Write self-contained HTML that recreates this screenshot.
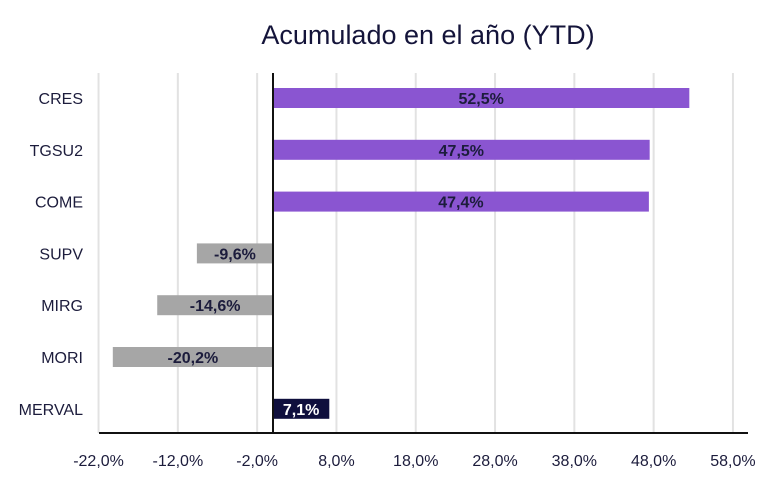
<!DOCTYPE html>
<html><head><meta charset="utf-8"><style>
body{margin:0;background:#fff;width:775px;height:474px;overflow:hidden}
svg text{font-family:"Liberation Sans",sans-serif}
</style></head><body>
<svg id="chart" width="775" height="474" viewBox="0 0 775 474">
<text x="428" y="44" text-anchor="middle" font-size="27" fill="#14143a">Acumulado en el año (YTD)</text>
<g id="grid"></g><g id="bars"></g><g id="axes"></g>
</svg>
<script>
const categories=["CRES","TGSU2","COME","SUPV","MIRG","MORI","MERVAL"];
const values=[52.5,47.5,47.4,-9.6,-14.6,-20.2,7.1];
const labels=["52,5%","47,5%","47,4%","-9,6%","-14,6%","-20,2%","7,1%"];
const ticks=[-22,-12,-2,8,18,28,38,48,58];
const tickLabels=["-22,0%","-12,0%","-2,0%","8,0%","18,0%","28,0%","38,0%","48,0%","58,0%"];
const NS="http://www.w3.org/2000/svg";
const x=v=>273+v*7.93;
const y=i=>98+i*51.8;
function mk(tag,attrs,parent){const e=document.createElementNS(NS,tag);for(const k in attrs)e.setAttribute(k,attrs[k]);document.getElementById(parent).appendChild(e);return e;}
ticks.forEach((t,i)=>{
 const g=mk("line",{x1:x(t),x2:x(t),y1:73,y2:433,stroke:"#e2e2e2","stroke-width":2},"grid");
 
 
 const tl=mk("text",{x:x(t),y:466,"text-anchor":"middle","font-size":16,fill:"#1c1c3c"},"axes");
 tl.textContent=tickLabels[i];
 
 
});
categories.forEach((c,i)=>{
 const v=values[i];
 const col=i===6?"#0f0f3d":(v<0?"#a6a6a6":"#8a55d1");
 const r=mk("rect",{x:Math.min(x(0),x(v)),y:y(i)-10,width:Math.abs(x(v)-x(0)),height:20,fill:col},"bars");
 
 
 const vl=mk("text",{x:(x(0)+x(v))/2,y:y(i)+6,"text-anchor":"middle","font-size":16,"font-weight":"bold",fill:i===6?"#fff":"#1c1c3c"},"bars");
 vl.textContent=labels[i];
 
 
 const cl=mk("text",{x:83,y:y(i)+6,"text-anchor":"end","font-size":16,fill:"#1c1c3c"},"axes");
 cl.textContent=c;
 
 
});
const ax=mk("line",{x1:99,x2:748,y1:433,y2:433,stroke:"#111","stroke-width":2},"axes");


const zl=mk("line",{x1:x(0),x2:x(0),y1:73,y2:433,stroke:"#111","stroke-width":2},"axes");


</script>
</body></html>
